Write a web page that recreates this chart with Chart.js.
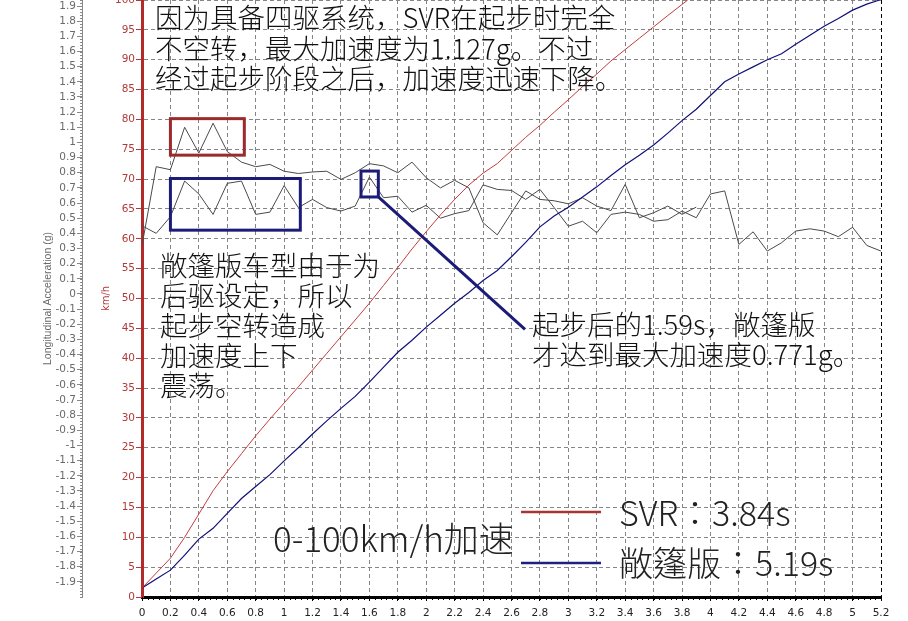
<!DOCTYPE html>
<html>
<head>
<meta charset="utf-8">
<script src="https://cdn.jsdelivr.net/npm/chart.js@4.4.1/dist/chart.umd.min.js"></script>
<style>
  html, body { margin: 0; padding: 0; background: #fff; }
  canvas { display: block; }
</style>
</head>
<body>
<canvas id="chart" width="908" height="621"></canvas>
<script>
// sample times (s) of the acceleration traces
const accelTime = [0, 0.1, 0.2, 0.3, 0.4, 0.5, 0.6, 0.7, 0.8, 0.9,
  1.0, 1.1, 1.2, 1.3, 1.4, 1.5, 1.6, 1.7, 1.8, 1.9,
  2.0, 2.1, 2.2, 2.3, 2.4, 2.5, 2.6, 2.7, 2.8, 2.9,
  3.0, 3.1, 3.2, 3.3, 3.4, 3.5, 3.6, 3.7, 3.8, 3.9,
  4.0, 4.1, 4.2, 4.3, 4.4, 4.5, 4.6, 4.7, 4.8, 4.9,
  5.0, 5.1, 5.2];

// longitudinal acceleration (g)
const svrAccel = [0.32, 0.84, 0.82, 1.10, 0.93, 1.127, 0.94, 0.87, 0.84, 0.855,
  0.81, 0.795, 0.805, 0.81, 0.756, 0.80, 0.86, 0.845, 0.80, 0.87,
  0.767, 0.70, 0.75, 0.70, 0.47, 0.39, 0.536, 0.68, 0.624, 0.615,
  0.595, 0.635, 0.58, 0.55, 0.723, 0.503, 0.536, 0.58, 0.525, 0.573];
const cabrioAccel = [0.45, 0.40, 0.51, 0.745, 0.66, 0.525, 0.73, 0.745, 0.525, 0.54,
  0.715, 0.57, 0.624, 0.57, 0.547, 0.58, 0.771, 0.635, 0.645, 0.54,
  0.585, 0.50, 0.53, 0.55, 0.72, 0.69, 0.683, 0.624, 0.69, 0.57,
  0.447, 0.48, 0.404, 0.525, 0.54, 0.525, 0.48, 0.49, 0.547, 0.503,
  0.66, 0.68, 0.327, 0.41, 0.283, 0.338, 0.415, 0.43, 0.415, 0.378,
  0.44, 0.32, 0.283];

// speed (km/h)
const svrSpeedTime = [0, 0.1, 0.2, 0.3, 0.4, 0.5, 0.6, 0.7, 0.8, 0.9,
  1.0, 1.1, 1.2, 1.3, 1.4, 1.5, 1.6, 1.7, 1.8, 1.9,
  2.0, 2.1, 2.2, 2.3, 2.4, 2.5, 2.6, 2.7, 2.8, 2.9,
  3.0, 3.1, 3.2, 3.3, 3.4, 3.5, 3.6, 3.7, 3.84];
const svrSpeed = [1.5, 4, 6.5, 10, 13.9, 17.8, 21, 24, 27, 29.8,
  32.5, 35.2, 38, 40.8, 43.6, 46.4, 49.2, 52.2, 55.2, 58.3,
  61.2, 64, 66.6, 69, 71, 72.6, 74.8, 77, 79, 81.2,
  83.3, 85.5, 87.6, 89.8, 91.7, 93.6, 95.5, 97.4, 100];
const cabrioSpeedTime = [0, 0.1, 0.2, 0.3, 0.4, 0.5, 0.6, 0.7, 0.8, 0.9,
  1.0, 1.1, 1.2, 1.3, 1.4, 1.5, 1.6, 1.7, 1.8, 1.9,
  2.0, 2.1, 2.2, 2.3, 2.4, 2.5, 2.6, 2.7, 2.8, 2.9,
  3.0, 3.1, 3.2, 3.3, 3.4, 3.5, 3.6, 3.7, 3.8, 3.9,
  4.0, 4.1, 4.2, 4.3, 4.4, 4.5, 4.6, 4.7, 4.8, 4.9,
  5.0, 5.1, 5.19];
const cabrioSpeed = [1.5, 3, 4.5, 7, 9.7, 11.5, 14, 16.5, 18.5, 20.5,
  22.8, 25, 27.3, 29.5, 31.6, 33.6, 36, 38.5, 41, 43,
  45.2, 47.2, 49.2, 51, 53, 54.7, 57, 59.4, 62, 63.8,
  65.3, 67, 68.7, 70.6, 72.4, 74, 75.7, 77.7, 79.8, 81.7,
  84, 86.3, 87.6, 88.8, 90, 91, 92.6, 94.1, 95.6, 96.9,
  98.3, 99.3, 100];

// g axis tick values
const gTickValues = [-1.9, -1.8, -1.7, -1.6, -1.5, -1.4, -1.3, -1.2, -1.1, -1,
  -0.9, -0.8, -0.7, -0.6, -0.5, -0.4, -0.3, -0.2, -0.1, 0,
  0.1, 0.2, 0.3, 0.4, 0.5, 0.6, 0.7, 0.8, 0.9, 1,
  1.1, 1.2, 1.3, 1.4, 1.5, 1.6, 1.7, 1.8, 1.9];

const legendLabels = ["SVR：3.84s", "敞篷版：5.19s"];
const noteTop = ["因为具备四驱系统，SVR在起步时完全", "不空转，最大加速度为1.127g。不过", "经过起步阶段之后，加速度迅速下降。"];
const noteLeft = ["敞篷版车型由于为", "后驱设定，所以", "起步空转造成", "加速度上下", "震荡。"];
const noteRight = ["起步后的1.59s，敞篷版", "才达到最大加速度0.771g。"];
const chartTitle = "0-100km/h加速";

const RED = "#c43c3c";
const BLUE = "#10107a";
const CJK = '"Noto Sans CJK SC", sans-serif';
const CJK_TC = '"Noto Sans CJK TC", "Noto Sans CJK SC", sans-serif';

function toPoints(xs, ys) {
  return ys.map((y, i) => ({ x: xs[i], y: y }));
}

function fmt1(v) {
  return String(Math.round(v * 10) / 10);
}

const annotations = {
  id: "annotations",
  afterDatasetsDraw(chart) {
    const { ctx } = chart;
    const x = chart.scales.x;
    const g = chart.scales.g;

    // minor ticks on the g axis and time axis
    ctx.save();
    ctx.strokeStyle = "#888";
    ctx.lineWidth = 1;
    ctx.beginPath();
    for (let i = -100; i <= 97; i++) {
      const py = Math.round(g.getPixelForValue(i * 0.02)) + 0.5;
      ctx.moveTo(g.right - 2, py);
      ctx.lineTo(g.right, py);
    }
    ctx.stroke();
    ctx.strokeStyle = "#000";
    ctx.beginPath();
    for (let i = 0; i <= 130; i++) {
      const px = Math.round(x.getPixelForValue(i * 0.04)) + 0.5;
      ctx.moveTo(px, x.top);
      ctx.lineTo(px, x.top + 3);
    }
    ctx.stroke();
    ctx.restore();

    // highlight boxes, in seconds / g
    const box = (t0, t1, g0, g1, color) => {
      const x0 = x.getPixelForValue(t0), x1 = x.getPixelForValue(t1);
      const y0 = g.getPixelForValue(g0), y1 = g.getPixelForValue(g1);
      ctx.strokeStyle = color;
      ctx.lineWidth = 3;
      ctx.strokeRect(x0, y0, x1 - x0, y1 - y0);
    };
    ctx.save();
    box(0.2, 0.72, 1.157, 0.916, "#9a2a2c");
    box(0.2, 1.114, 0.762, 0.421, "#1c1c78");
    box(1.541, 1.663, 0.811, 0.64, "#1c1c78");
    ctx.strokeStyle = "#1c1c78";
    ctx.lineWidth = 3;
    ctx.beginPath();
    ctx.moveTo(x.getPixelForValue(1.663), g.getPixelForValue(0.64));
    ctx.lineTo(x.getPixelForValue(2.695), g.getPixelForValue(-0.234));
    ctx.stroke();
    ctx.restore();

    // texts
    ctx.save();
    ctx.fillStyle = "#111";
    ctx.textAlign = "left";
    ctx.textBaseline = "middle";
    ctx.font = "300 27.5px " + CJK;
    noteTop.forEach((s, i) => ctx.fillText(s, 155, 18 + i * 30.5));
    noteLeft.forEach((s, i) => ctx.fillText(s, 160, 266 + i * 30));
    noteRight.forEach((s, i) => ctx.fillText(s, 532, 325 + i * 30));

    ctx.fillStyle = "#222";
    ctx.textBaseline = "alphabetic";
    ctx.font = "300 35px " + CJK;
    ctx.fillText(chartTitle, 273, 552);

    // legend
    ctx.lineWidth = 2.5;
    ctx.strokeStyle = "#a83434";
    ctx.beginPath();
    ctx.moveTo(521, 512);
    ctx.lineTo(601, 512);
    ctx.stroke();
    ctx.strokeStyle = "#20207e";
    ctx.beginPath();
    ctx.moveTo(521, 563);
    ctx.lineTo(601, 563);
    ctx.stroke();
    ctx.font = "300 34px " + CJK_TC;
    ctx.fillText(legendLabels[0], 619, 526);
    ctx.fillText(legendLabels[1], 619, 576);
    ctx.restore();
  }
};

new Chart(document.getElementById("chart"), {
  type: "line",
  data: {
    datasets: [
      {
        label: "SVR km/h",
        data: toPoints(svrSpeedTime, svrSpeed),
        yAxisID: "kmh",
        borderColor: RED,
        borderWidth: 1,
      },
      {
        label: "敞篷版 km/h",
        data: toPoints(cabrioSpeedTime, cabrioSpeed),
        yAxisID: "kmh",
        borderColor: BLUE,
        borderWidth: 1.2,
      },
      {
        label: "SVR g",
        data: toPoints(accelTime, svrAccel),
        yAxisID: "g",
        borderColor: "#4a4a4a",
        borderWidth: 1,
      },
      {
        label: "敞篷版 g",
        data: toPoints(accelTime, cabrioAccel),
        yAxisID: "g",
        borderColor: "#4a4a4a",
        borderWidth: 1,
      },
    ],
  },
  options: {
    responsive: false,
    animation: false,
    events: [],
    layout: { padding: { left: 40, right: 27, top: 0, bottom: 0 } },
    elements: {
      point: { radius: 0 },
      line: { tension: 0 },
    },
    plugins: {
      legend: { display: false },
      tooltip: { enabled: false },
    },
    scales: {
      x: {
        type: "linear",
        min: 0,
        max: 5.2,
        afterFit: (s) => { s.height = 24; s.paddingLeft = 0; s.paddingRight = 0; },
        ticks: {
          stepSize: 0.2,
          maxTicksLimit: 100,
          autoSkip: false,
          maxRotation: 0,
          padding: 6,
          color: "#222",
          font: { family: "DejaVu Sans", size: 10.5 },
          callback: (v) => fmt1(v),
        },
        grid: {
          color: (c) => {
            const v = c.tick ? c.tick.value : 0;
            if (v < 0.01) return "rgba(0,0,0,0)";
            return v > 5.19 ? "#000" : "#858585";
          },
          lineWidth: 1,
          tickLength: 4,
          tickColor: "#000",
        },
        border: { color: "#000", width: 3, dash: [4, 3] },
      },
      kmh: {
        type: "linear",
        position: "left",
        weight: 0,
        min: 0,
        max: 100,
        afterFit: (s) => { s.width = 60; s.paddingTop = 0; s.paddingBottom = 0; },
        ticks: {
          stepSize: 5,
          maxTicksLimit: 100,
          autoSkip: false,
          padding: 1,
          color: "#b23a3a",
          font: { family: "DejaVu Sans", size: 10.5 },
        },
        title: {
          display: true,
          text: "km/h",
          color: "#b23a3a",
          font: { family: "DejaVu Sans", size: 10 },
          padding: { top: 18, bottom: 0 },
        },
        grid: {
          color: (c) => (c.tick && c.tick.value === 0 ? "rgba(0,0,0,0)" : "#858585"),
          lineWidth: 1,
          tickLength: 6,
          tickColor: "#b23a3a",
        },
        border: { color: "#b32a2a", width: 3, dash: [4, 3] },
      },
      g: {
        type: "linear",
        position: "left",
        weight: 10,
        min: -2.0,
        max: 1.94,
        afterFit: (s) => { s.width = 42; s.paddingTop = 0; s.paddingBottom = 0; },
        afterBuildTicks: (s) => {
          s.ticks = gTickValues.map((v) => ({ value: v }));
        },
        ticks: {
          autoSkip: false,
          padding: 1,
          color: "#6a6a6a",
          font: { family: "DejaVu Sans", size: 10.5 },
          callback: (v) => fmt1(v),
        },
        title: {
          display: true,
          text: "Longitudinal Acceleration (g)",
          color: "#6a6a6a",
          font: { family: "Liberation Sans", size: 10.5 },
          padding: { top: 2, bottom: 0 },
        },
        grid: {
          drawOnChartArea: false,
          tickLength: 5,
          tickColor: "#888",
        },
        border: { color: "#888", width: 1 },
      },
    },
  },
  plugins: [annotations],
});
</script>
</body>
</html>
